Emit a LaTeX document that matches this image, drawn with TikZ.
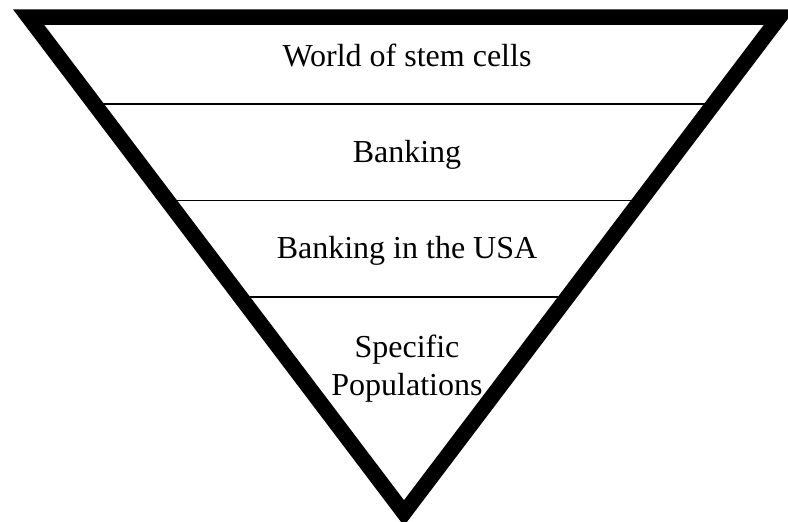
\documentclass[tikz,border=0pt]{standalone}
\usepackage{fontspec}
\setmainfont{Liberation Serif}
\usetikzlibrary{calc}
\tikzset{tiertext/.style={anchor=base, inner sep=0pt, align=center, font=\fontsize{32}{38}\selectfont}}

\begin{document}
\begin{tikzpicture}[x=1pt,y=-1pt]
	%%%%% START %%%%%
	\useasboundingbox (0,0) rectangle (788,522);

	\coordinate (tl) at (28.5,17);
	\coordinate (tr) at (779.5,17);
	\coordinate (bot) at (404,513);

	\draw[line width=1.6pt] ($(tl)!0.1754!(bot)$) -- ($(tr)!0.1754!(bot)$);
	\draw[line width=1.6pt] ($(tl)!0.3700!(bot)$) -- ($(tr)!0.3700!(bot)$);
	\draw[line width=1.6pt] ($(tl)!0.5645!(bot)$) -- ($(tr)!0.5645!(bot)$);

	\draw[line width=15.5pt, line join=miter] (tl) -- (tr) -- (bot) -- cycle;

	\node[tiertext] (world) at (407,66) {World of stem cells};
	\node[tiertext] (bank) at (407,162) {Banking};
	\node[tiertext] (usa) at (407,258) {Banking in the USA};
	\node[tiertext] (popl) at (407,395) {Specific\\Populations};
	%%%%% END %%%%%
\end{tikzpicture}
\end{document}
